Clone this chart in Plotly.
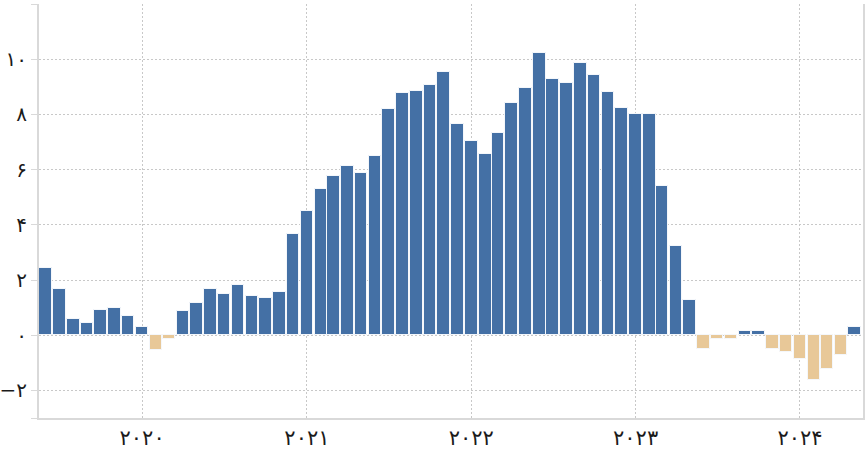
import plotly.graph_objects as go
import pandas as pd

# Monthly values, Jun 2019 .. May 2024
months = pd.date_range("2019-06-01", "2024-05-01", freq="MS")
values = [
    2.44, 1.67, 0.60, 0.46, 0.92, 0.97, 0.71,          # Jun-Dec 2019
    0.30, -0.54, -0.14, 0.86, 1.17, 1.67, 1.51, 1.82, 1.43, 1.33, 1.57, 3.65,  # 2020
    4.50, 5.31, 5.77, 6.14, 5.88, 6.49, 8.21, 8.76, 8.86, 9.07, 9.52, 7.64,    # 2021
    7.04, 6.55, 7.34, 8.41, 8.96, 10.24, 9.28, 9.12, 9.88, 9.42, 8.82, 8.25,   # 2022
    8.00, 8.00, 5.41, 3.24, 1.26, -0.51, -0.14, -0.14, 0.14, 0.14, -0.51, -0.60,  # 2023
    -0.87, -1.62, -1.21, -0.71, 0.30,                                          # 2024
]

x_tick_vals = ["2020-01-01", "2021-01-01", "2022-01-01", "2023-01-01", "2024-01-01"]
x_tick_text = ["۲۰۲۰", "۲۰۲۱", "۲۰۲۲", "۲۰۲۳", "۲۰۲۴"]
y_tick_vals = [-3, -2, 0, 2, 4, 6, 8, 10, 12]
y_tick_text = ["", "−۲", "۰", "۲", "۴", "۶", "۸", "۱۰", ""]

POS = "#4470A5"
NEG = "#E8C898"
colors = [POS if v >= 0 else NEG for v in values]

fig = go.Figure(
    go.Bar(
        x=months,
        y=values,
        marker=dict(color=colors, line=dict(color="#F4F7FB", width=1)),
        hoverinfo="x+y",
    )
)

fig.update_layout(
    width=868,
    height=467,
    margin=dict(l=39, r=5, t=4, b=49),
    paper_bgcolor="white",
    plot_bgcolor="white",
    bargap=0,
    showlegend=False,
    font=dict(family="DejaVu Sans", color="#1A1A1A", size=18),
)

fig.update_xaxes(
    range=["2019-05-17", "2024-05-20"],
    tickvals=x_tick_vals,
    ticktext=x_tick_text,
    showgrid=True,
    gridcolor="#C8C8C8",
    griddash="2px,2px",
    gridwidth=1,
    showline=True,
    linecolor="#D9D9D9",
    linewidth=2,
    ticks="",
    zeroline=False,
    automargin=False,
    tickfont=dict(size=21),
)

fig.update_yaxes(
    range=[-3, 12],
    tickvals=y_tick_vals,
    ticktext=y_tick_text,
    showgrid=True,
    gridcolor="#C8C8C8",
    griddash="2px,2px",
    gridwidth=1,
    showline=True,
    mirror=True,
    linecolor="#D9D9D9",
    linewidth=2,
    ticks="outside",
    ticklen=6,
    tickcolor="#D9D9D9",
    zeroline=False,
    automargin=False,
    tickfont=dict(size=20),
)

fig.write_html(
    "out.html",
    config={"displayModeBar": False},
    post_script="document.body.style.margin='0';document.body.style.overflow='hidden';",
)
